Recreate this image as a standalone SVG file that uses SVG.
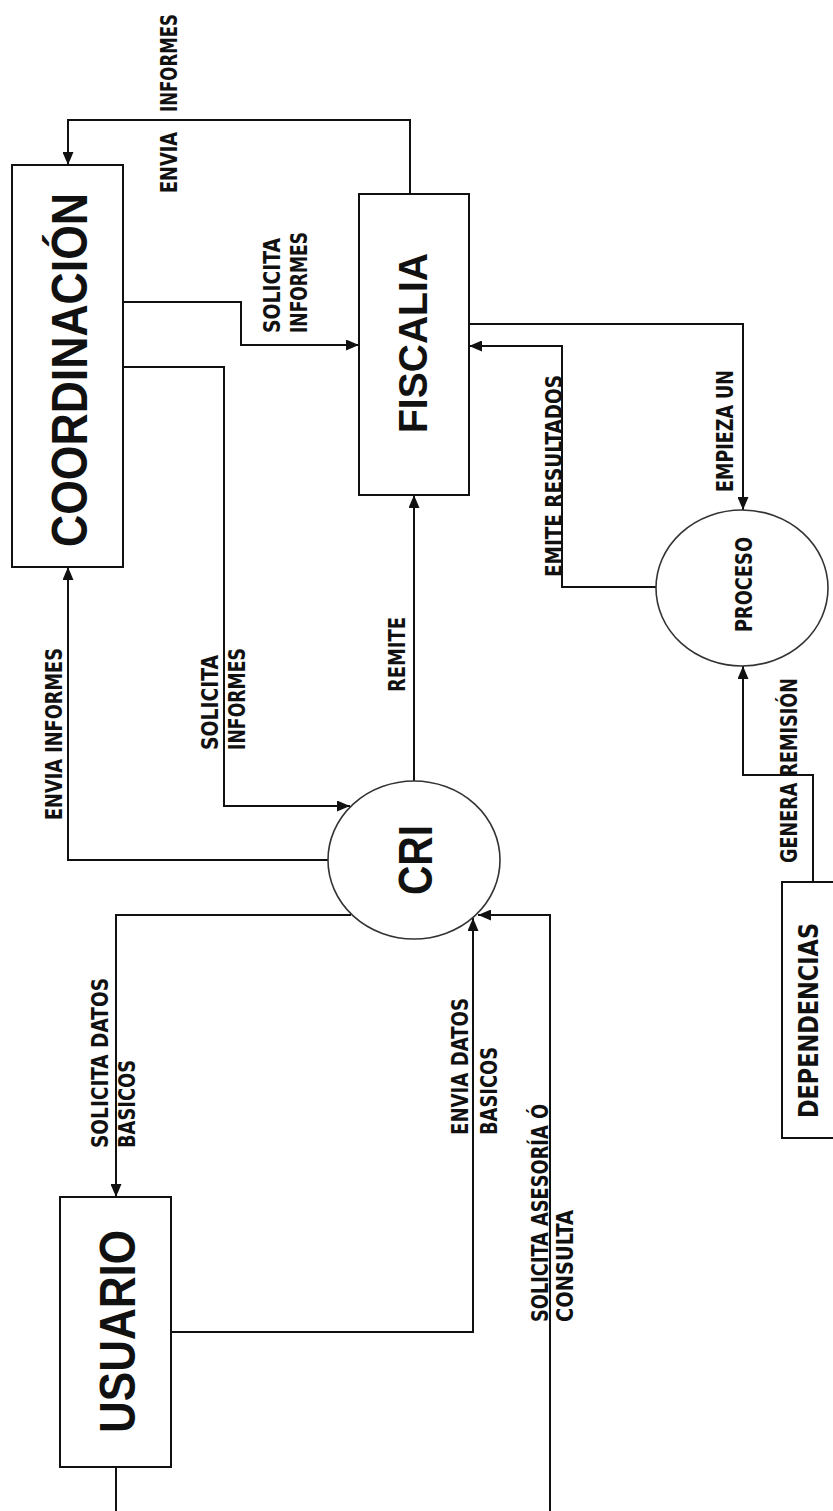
<svg xmlns="http://www.w3.org/2000/svg" width="833" height="1511" viewBox="0 0 833 1511">
  <style>
    .box { fill: #fff; stroke: #111; stroke-width: 2; }
    .bubble { fill: #fff; stroke: #333; stroke-width: 1.6; }
    .wire { fill: none; stroke: #111; stroke-width: 2; }
    .lbl { font-family: "Liberation Sans Narrow", "DejaVu Sans Condensed", "Liberation Sans", sans-serif; font-weight: bold; font-size: 23px; fill: #111; }
    .big { font-family: "Liberation Sans", Arial, sans-serif; font-weight: bold; fill: #111; }
    .dep { font-family: "Liberation Sans Narrow", "DejaVu Sans Condensed", "Liberation Sans", sans-serif; font-weight: 600; font-size: 26px; fill: #111; }
  </style>
  <defs>
    <marker id="arrow" viewBox="0 0 13 11" refX="13" refY="5.5" markerWidth="13" markerHeight="11" markerUnits="userSpaceOnUse" orient="auto">
      <path d="M0,0 L13,5.5 L0,11 Z" fill="#111"/>
    </marker>
  </defs>
  <rect width="833" height="1511" fill="#fff"/>

  <!-- connectors -->
  <g id="connectors">
    <path class="wire" d="M410,194 V120 H68 V165" marker-end="url(#arrow)"/>
    <path class="wire" d="M123,302 H241 V345 H359" marker-end="url(#arrow)"/>
    <path class="wire" d="M123,367 H224 V806 H350" marker-end="url(#arrow)"/>
    <path class="wire" d="M414,781 V495" marker-end="url(#arrow)"/>
    <path class="wire" d="M328,860 H68 V567" marker-end="url(#arrow)"/>
    <path class="wire" d="M469,324 H743 V510" marker-end="url(#arrow)"/>
    <path class="wire" d="M656,587 H562 V346 H469" marker-end="url(#arrow)"/>
    <path class="wire" d="M813,882 V775 H743 V666" marker-end="url(#arrow)"/>
    <path class="wire" d="M351,915 H116 V1197" marker-end="url(#arrow)"/>
    <path class="wire" d="M171,1332 H473 V918" marker-end="url(#arrow)"/>
    <path class="wire" d="M550,1511 V915 H478" marker-end="url(#arrow)"/>
    <path class="wire" d="M116,1467 V1511"/>

    <text class="lbl" transform="translate(177,112) rotate(-90)" textLength="98" lengthAdjust="spacingAndGlyphs">INFORMES</text>
    <text class="lbl" transform="translate(177,193) rotate(-90)" textLength="61" lengthAdjust="spacingAndGlyphs">ENVIA</text>
    <text class="lbl" transform="translate(280,333) rotate(-90)" textLength="95" lengthAdjust="spacingAndGlyphs">SOLICITA</text>
    <text class="lbl" transform="translate(307,333) rotate(-90)" textLength="101" lengthAdjust="spacingAndGlyphs">INFORMES</text>
    <text class="lbl" transform="translate(62,820) rotate(-90)" textLength="172" lengthAdjust="spacingAndGlyphs">ENVIA INFORMES</text>
    <text class="lbl" transform="translate(218,750) rotate(-90)" textLength="95" lengthAdjust="spacingAndGlyphs">SOLICITA</text>
    <text class="lbl" transform="translate(245,750) rotate(-90)" textLength="102" lengthAdjust="spacingAndGlyphs">INFORMES</text>
    <text class="lbl" transform="translate(405,692) rotate(-90)" textLength="75" lengthAdjust="spacingAndGlyphs">REMITE</text>
    <text class="lbl" transform="translate(562,577) rotate(-90)" textLength="202" lengthAdjust="spacingAndGlyphs">EMITE RESULTADOS</text>
    <text class="lbl" transform="translate(733,492) rotate(-90)" textLength="122" lengthAdjust="spacingAndGlyphs">EMPIEZA UN</text>
    <text class="lbl" transform="translate(797,863) rotate(-90)" textLength="185" lengthAdjust="spacingAndGlyphs">GENERA REMISIÓN</text>
    <text class="lbl" transform="translate(108,1148) rotate(-90)" textLength="170" lengthAdjust="spacingAndGlyphs">SOLICITA DATOS</text>
    <text class="lbl" transform="translate(135,1148) rotate(-90)" textLength="88" lengthAdjust="spacingAndGlyphs">BASICOS</text>
    <text class="lbl" transform="translate(468,1135) rotate(-90)" textLength="137" lengthAdjust="spacingAndGlyphs">ENVIA DATOS</text>
    <text class="lbl" transform="translate(497,1135) rotate(-90)" textLength="88" lengthAdjust="spacingAndGlyphs">BASICOS</text>
    <text class="lbl" transform="translate(548,1322) rotate(-90)" textLength="218" lengthAdjust="spacingAndGlyphs">SOLICITA ASESORÍA Ó</text>
    <text class="lbl" transform="translate(573,1322) rotate(-90)" textLength="112" lengthAdjust="spacingAndGlyphs">CONSULTA</text>
  </g>

  <!-- external entities and processes -->
  <g id="coordinacion">
    <rect class="box" x="12" y="165" width="111" height="402"/>
    <text class="big" font-size="50" transform="translate(87,547) rotate(-90)" textLength="354" lengthAdjust="spacingAndGlyphs">COORDINACIÓN</text>
  </g>
  <g id="fiscalia">
    <rect class="box" x="359" y="194" width="110" height="301"/>
    <text class="big" font-size="41" transform="translate(427,433) rotate(-90)" textLength="180" lengthAdjust="spacingAndGlyphs">FISCALIA</text>
  </g>
  <g id="cri">
    <ellipse class="bubble" cx="414" cy="860" rx="86" ry="79"/>
    <text class="big" font-size="48" transform="translate(432,895) rotate(-90)" textLength="70" lengthAdjust="spacingAndGlyphs">CRI</text>
  </g>
  <g id="proceso">
    <ellipse class="bubble" cx="742" cy="588" rx="86" ry="78"/>
    <text class="lbl" font-size="24" transform="translate(752,632) rotate(-90)" textLength="95" lengthAdjust="spacingAndGlyphs">PROCESO</text>
  </g>
  <g id="usuario">
    <rect class="box" x="60" y="1197" width="111" height="270"/>
    <text class="big" font-size="50" transform="translate(135,1433) rotate(-90)" textLength="203" lengthAdjust="spacingAndGlyphs">USUARIO</text>
  </g>
  <g id="dependencias">
    <rect class="box" x="782" y="882" width="60" height="256"/>
    <text class="dep" transform="translate(818,1118) rotate(-90)" textLength="195" lengthAdjust="spacingAndGlyphs">DEPENDENCIAS</text>
  </g>
</svg>
